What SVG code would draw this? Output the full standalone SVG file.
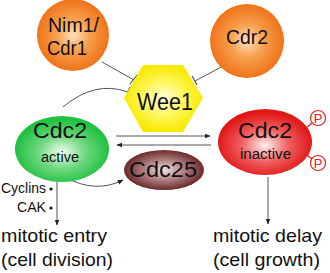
<svg xmlns="http://www.w3.org/2000/svg" width="330" height="273" viewBox="0 0 330 273">
<defs>
<radialGradient id="gOr" cx="0.5" cy="0.5" r="0.5"><stop offset="0" stop-color="#fde0c0"/><stop offset="0.45" stop-color="#f8a050"/><stop offset="1" stop-color="#ef7318"/></radialGradient>
<radialGradient id="gGr" cx="0.5" cy="0.55" r="0.5"><stop offset="0" stop-color="#f0fff0"/><stop offset="0.5" stop-color="#70d880"/><stop offset="1" stop-color="#20c040"/></radialGradient>
<radialGradient id="gRd" cx="0.5" cy="0.55" r="0.5"><stop offset="0" stop-color="#fff0f0"/><stop offset="0.5" stop-color="#f06060"/><stop offset="1" stop-color="#e01818"/></radialGradient>
<radialGradient id="gBr" cx="0.5" cy="0.5" r="0.5"><stop offset="0" stop-color="#f0e0e0"/><stop offset="0.5" stop-color="#b08080"/><stop offset="1" stop-color="#6a2a2a"/></radialGradient>
<radialGradient id="gYe" cx="0.5" cy="0.5" r="0.5"><stop offset="0" stop-color="#ffffe0"/><stop offset="0.5" stop-color="#fff860"/><stop offset="1" stop-color="#f8e800"/></radialGradient>
<marker id="ah" viewBox="0 0 10 10" refX="9" refY="5" markerWidth="6" markerHeight="6" orient="auto"><path d="M0,1 L10,5 L0,9 z" fill="#222"/></marker>
<style>
.t{font-family:"Liberation Sans",Arial,sans-serif;fill:#111;}
.ln{stroke:#555;stroke-width:1;fill:none;}
.bar{stroke:#555;stroke-width:1.2;}
.p{fill:#fff;stroke:#e82020;stroke-width:1.2;}
.pt{font-family:"Liberation Sans",Arial,sans-serif;fill:#e82020;font-size:13px;text-anchor:middle;}
</style>
</defs>
<g id="connectors">
<line class="ln" x1="102" y1="62" x2="134" y2="80"/>
<line class="bar" x1="130" y1="84" x2="137" y2="75"/>
<line class="ln" x1="225" y1="65" x2="195" y2="81"/>
<line class="bar" x1="192" y1="76" x2="197" y2="85"/>
<path class="ln" d="M63,107 Q95,80 128,92"/>
<line class="bar" x1="126" y1="97" x2="130" y2="87"/>
<line class="ln" x1="116" y1="136" x2="210" y2="136" marker-end="url(#ah)"/>
<line class="ln" x1="211" y1="145" x2="117" y2="145" marker-end="url(#ah)"/>
<path class="ln" d="M65,177 Q95,194 123,180" marker-end="url(#ah)"/>
<line class="ln" x1="57" y1="177" x2="57" y2="225" marker-end="url(#ah)"/>
<line class="ln" x1="268" y1="177" x2="268" y2="224" marker-end="url(#ah)"/>
<line stroke="#e82020" stroke-width="1.2" x1="306" y1="128" x2="312" y2="123"/>
<line stroke="#e82020" stroke-width="1.2" x1="307" y1="155" x2="312" y2="159"/>
</g>
<g id="nim1"><circle cx="73" cy="35" r="36" fill="url(#gOr)"/><text class="t" x="48" y="32" font-size="21" textLength="51" lengthAdjust="spacingAndGlyphs">Nim1/</text><text class="t" x="47" y="55" font-size="21" textLength="40" lengthAdjust="spacingAndGlyphs">Cdr1</text></g>
<g id="cdr2"><circle cx="247" cy="41" r="37" fill="url(#gOr)"/><text class="t" x="226" y="44" font-size="21" textLength="42" lengthAdjust="spacingAndGlyphs">Cdr2</text></g>
<g id="wee1"><polygon points="143,65 183,65 203,98 183,132 143,132 124,98" fill="url(#gYe)"/><text class="t" x="137" y="110" font-size="24" textLength="56" lengthAdjust="spacingAndGlyphs">Wee1</text></g>
<g id="cdc2active"><ellipse cx="62" cy="149" rx="47" ry="33" fill="url(#gGr)"/><text class="t" x="33" y="138" font-size="22" textLength="54" lengthAdjust="spacingAndGlyphs">Cdc2</text><text class="t" x="41" y="162" font-size="14" textLength="38" lengthAdjust="spacingAndGlyphs">active</text></g>
<g id="cdc2inactive"><ellipse cx="265" cy="142" rx="47" ry="33" fill="url(#gRd)"/><text class="t" x="238" y="138" font-size="22" textLength="54" lengthAdjust="spacingAndGlyphs">Cdc2</text><text class="t" x="240" y="159" font-size="14" textLength="51" lengthAdjust="spacingAndGlyphs">inactive</text>
<circle class="p" cx="318" cy="118" r="7.5"/><text class="pt" x="318" y="123">P</text>
<circle class="p" cx="318" cy="163" r="7.5"/><text class="pt" x="318" y="168">P</text></g>
<g id="cdc25"><ellipse cx="164" cy="170" rx="40" ry="20" fill="url(#gBr)"/><text class="t" x="129" y="177" font-size="22" textLength="68" lengthAdjust="spacingAndGlyphs">Cdc25</text></g>
<g id="labels">
<text class="t" x="1" y="193" font-size="14" textLength="45" lengthAdjust="spacingAndGlyphs">Cyclins</text><circle cx="51" cy="189" r="1.6" fill="#111"/>
<text class="t" x="17" y="212" font-size="14" textLength="29" lengthAdjust="spacingAndGlyphs">CAK</text><circle cx="51" cy="208" r="1.6" fill="#111"/>
<text class="t" x="1" y="242" font-size="19" textLength="106" lengthAdjust="spacingAndGlyphs">mitotic entry</text>
<text class="t" x="1" y="266" font-size="19" textLength="112" lengthAdjust="spacingAndGlyphs">(cell division)</text>
<text class="t" x="213" y="242" font-size="19" textLength="109" lengthAdjust="spacingAndGlyphs">mitotic delay</text>
<text class="t" x="213" y="266" font-size="19" textLength="107" lengthAdjust="spacingAndGlyphs">(cell growth)</text>
</g>
</svg>
